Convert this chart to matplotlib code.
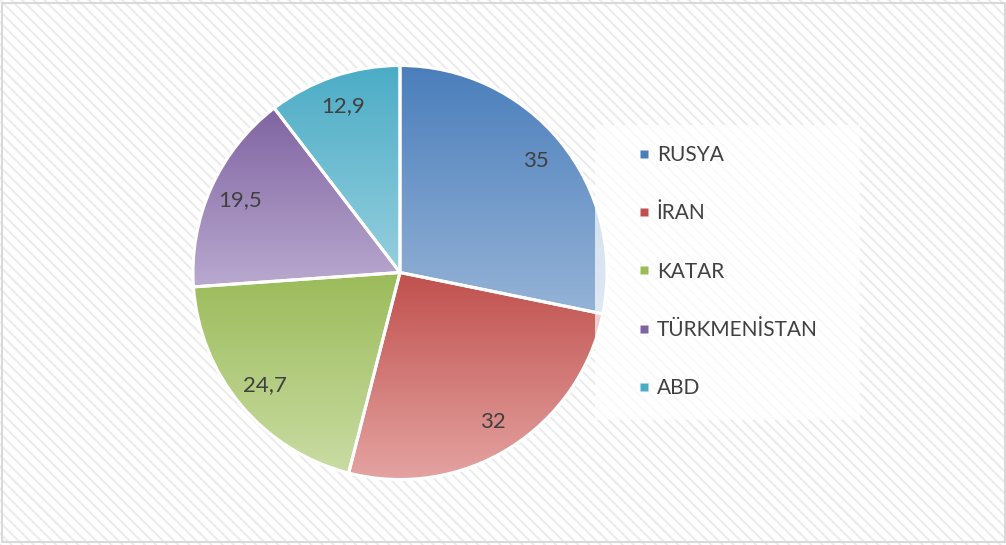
import numpy as np
import matplotlib
matplotlib.use("Agg")
from matplotlib import pyplot as plt
from matplotlib import patches as pat
from matplotlib.colors import to_rgb
from matplotlib.lines import Line2D

plt.rcParams['font.family'] = ['Lato', 'DejaVu Sans']
plt.rcParams['hatch.linewidth'] = 1.4

# data
countries = ['RUSYA', 'İRAN', 'KATAR', 'TÜRKMENİSTAN', 'ABD']
values = [35, 32, 24.7, 19.5, 12.9]
value_labels = ['35', '32', '24,7', '19,5', '12,9']

# gradient colours (top, bottom) for each slice
top_colors = ['#4a7ebb', '#c0504d', '#9bbb59', '#8064a2', '#4bacc6']
bottom_colors = ['#95b3d7', '#e4a3a1', '#c9dca3', '#b9a9cf', '#95cfde']
text_color = '#404040'

W, H = 1006, 545
fig = plt.figure(figsize=(W / 100, H / 100), dpi=100)

# hatched background + light border
bg = pat.Rectangle((0, 0), 1, 1, transform=fig.transFigure, facecolor='white',
                   edgecolor='#ebebeb', hatch='\\\\\\', linewidth=0, zorder=-2)
fig.patches.append(bg)
border = pat.Rectangle((1.5 / W, 3 / H), 1 - 3 / W, 1 - 6 / H, transform=fig.transFigure,
                       fill=False, edgecolor='#d9d9d9', linewidth=1.5, zorder=-1)
fig.patches.append(border)

# pie axes placed so the centre sits at (400, 272) px with radius 206 px
cx, cy, r = 400, 272.5, 207
ax = fig.add_axes([(cx - r) / W, (H - cy - r) / H, 2 * r / W, 2 * r / H])
ax.set_facecolor('none')
ax.set_zorder(1)

wedges, texts = ax.pie(values, startangle=90, counterclock=False,
                       wedgeprops=dict(edgecolor='white', linewidth=2.2),
                       radius=1)

for i, w in enumerate(wedges):
    w.set_facecolor('none')
    bb = w.get_path().get_extents(w.get_patch_transform())
    c0 = np.array(to_rgb(top_colors[i]))
    c1 = np.array(to_rgb(bottom_colors[i]))
    t = np.linspace(0, 1, 256)[:, None]
    grad = (c0 * (1 - t) + c1 * t)[:, None, :]
    im = ax.imshow(grad, extent=[bb.x0, bb.x1, bb.y0, bb.y1], origin='upper',
                   aspect='auto', zorder=1, interpolation='bilinear')
    im.set_clip_path(w)
    w.set_zorder(2)

# value labels
theta = 90.0
total = sum(values)
for i, v in enumerate(values):
    span = v / total * 360
    mid = np.deg2rad(theta - span / 2)
    theta -= span
    d = 0.85
    ax.text(d * np.cos(mid), d * np.sin(mid), value_labels[i], ha='center', va='center',
            fontsize=16, color=text_color, zorder=3)

ax.set_xlim(-1, 1)
ax.set_ylim(-1, 1)
ax.set_aspect('auto')
ax.axis('off')

# semi-transparent legend box
box = pat.Rectangle((595 / W, 1 - 420 / H), 265 / W, 295 / H, transform=fig.transFigure,
                    facecolor='white', alpha=0.7, edgecolor='none', zorder=2)
fig.patches.append(box)

handles = [Line2D([], [], marker='s', linestyle='none', markersize=6,
                  markerfacecolor=top_colors[i], markeredgecolor='none')
           for i in range(len(countries))]
leg = fig.legend(handles, countries, loc='upper left',
                 bbox_to_anchor=(636 / W, 1 - 145 / H), bbox_transform=fig.transFigure,
                 frameon=False, fontsize=15, labelcolor=text_color,
                 labelspacing=1.84, borderpad=0, handlelength=0.8, handletextpad=0.2,
                 borderaxespad=0)
leg.set_zorder(3)

fig.savefig('out.png', dpi=100)
